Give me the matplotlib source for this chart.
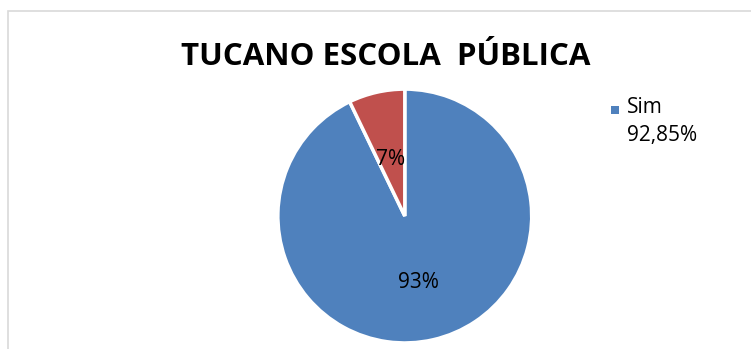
import matplotlib.pyplot as plt
from matplotlib.patches import Rectangle

title = "TUCANO ESCOLA  PÚBLICA"
labels = ["Sim", "Não"]
values = [92.85, 7.15]
legend_text = "Sim\n92,85%"
colors = ["#4f81bd", "#c0504d"]

plt.rcParams["font.family"] = ["Open Sans", "DejaVu Sans"]

fig = plt.figure(figsize=(7.51, 3.49), dpi=100)

# light frame of the chart area (runs off the right and bottom edges)
fig.patches.append(Rectangle((8 / 751, -0.05), 1.0, 1 - 11 / 349 + 0.05,
                             transform=fig.transFigure, fill=False,
                             edgecolor="#d9d9d9", linewidth=1.2))

ax = fig.add_axes([0.370, 0.017, 0.338, 0.728])
wedges, texts, autotexts = ax.pie(
    values, colors=colors, startangle=90, counterclock=False,
    autopct="%.0f%%", pctdistance=0.5,
    wedgeprops={"edgecolor": "white", "linewidth": 2.5},
    textprops={"fontsize": 15, "color": "black"},
)
# nudge the percent labels a little lower, like Excel does
for t in autotexts:
    t.set_y(t.get_position()[1] - 0.04)
ax.set_xlim(-1, 1)
ax.set_ylim(-1, 1)
ax.set_aspect("equal")

fig.text(0.513, 1 - 57 / 349, title, ha="center", va="center",
         fontsize=22.5, fontweight="bold")

# legend: only the first series is listed
fig.patches.append(Rectangle((611 / 751, 1 - 114 / 349), 8 / 751, 8 / 349,
                             transform=fig.transFigure, facecolor=colors[0],
                             edgecolor="none"))
fig.text(627 / 751, 1 - 97 / 349, legend_text, ha="left", va="top",
         fontsize=15, linespacing=1.45)

plt.savefig("out.png", dpi=100)
